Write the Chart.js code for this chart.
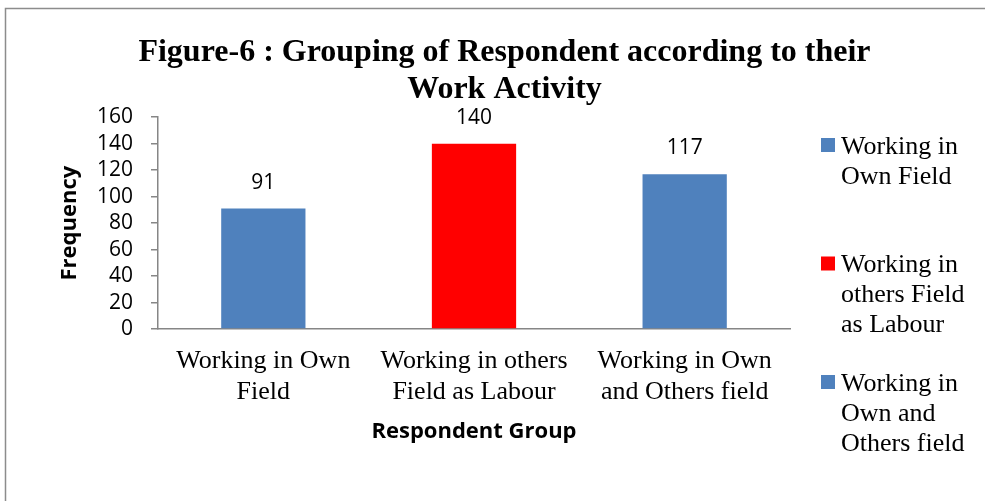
<!DOCTYPE html>
<html>
<head>
<meta charset="utf-8">
<title>Figure-6</title>
<script src="https://cdn.jsdelivr.net/npm/chart.js@4.4.0/dist/chart.umd.min.js"></script>
<style>
  html, body { margin: 0; padding: 0; background: #fff; }
  #wrap { width: 985px; height: 501px; }
</style>
</head>
<body>
<div id="wrap"><canvas id="myChart" width="985" height="501"></canvas></div>
<script>
// data
const categories = ['Working in Own Field', 'Working in others Field as Labour', 'Working in Own and Others field'];
const frequency = [91, 140, 117];
const barColors = ['#4F81BD', '#FF0000', '#4F81BD'];
const yMin = 0;
const yMax = 160;
const yStep = 20;
const titleLines = ['Figure-6 : Grouping of Respondent according to their', 'Work Activity'];
const xTitle = 'Respondent Group';
const yTitle = 'Frequency';

const serif = '"Liberation Serif", "Times New Roman", serif';
const sans = '"Open Sans", "Liberation Sans", sans-serif';
const axisGray = '#868686';

// wraps a label into lines no wider than maxWidth
const measureCtx = document.createElement('canvas').getContext('2d');
function wrapText(text, font, maxWidth) {
    measureCtx.font = font;
    const words = text.split(' ');
    const lines = [];
    let line = '';
    words.forEach(w => {
        const test = line ? line + ' ' + w : w;
        if (line && measureCtx.measureText(test).width > maxWidth) {
            lines.push(line);
            line = w;
        } else {
            line = test;
        }
    });
    if (line) lines.push(line);
    return lines;
}

// grey frame round the whole chart
const framePlugin = {
    id: 'frame',
    beforeDraw(chart) {
        const ctx = chart.ctx;
        ctx.save();
        ctx.strokeStyle = '#8c8c8c';
        ctx.lineWidth = 1.5;
        ctx.strokeRect(5.5, 8.5, 1200, 800);
        ctx.restore();
    }
};

// value above each bar
const valueLabels = {
    id: 'valueLabels',
    afterDatasetsDraw(chart) {
        const ctx = chart.ctx;
        const meta = chart.getDatasetMeta(0);
        ctx.save();
        ctx.font = '21px ' + sans;
        ctx.fillStyle = '#000';
        ctx.textAlign = 'center';
        ctx.textBaseline = 'middle';
        meta.data.forEach((bar, i) => {
            ctx.fillText(chart.data.datasets[0].data[i], bar.x, bar.y - 26);
        });
        ctx.restore();
    }
};

// one legend entry per bar, text wrapped like the category labels
const sideLegend = {
    id: 'sideLegend',
    afterDraw(chart) {
        const ctx = chart.ctx;
        const font = '26px ' + serif;
        const left = chart.chartArea.right + 31;
        const top = 147;
        const gap = 118.5;
        const lineH = 30;
        ctx.save();
        ctx.font = font;
        ctx.textBaseline = 'middle';
        ctx.textAlign = 'left';
        chart.data.labels.forEach((label, i) => {
            const y = top + i * gap;
            ctx.fillStyle = barColors[i];
            ctx.fillRect(left, y - 9, 14, 14);
            ctx.fillStyle = '#000';
            wrapText(label, font, 135).forEach((ln, j) => {
                ctx.fillText(ln, left + 20, y + j * lineH);
            });
        });
        ctx.restore();
    }
};

const data = {
    labels: categories,
    datasets: [{
        label: yTitle,
        data: frequency,
        backgroundColor: barColors,
        borderWidth: 0,
        categoryPercentage: 0.8,
        barPercentage: 0.5
    }]
};

const config = {
    type: 'bar',
    data,
    options: {
        responsive: false,
        animation: false,
        devicePixelRatio: 1,
        layout: {
            padding: { left: 24, right: 0, top: 0, bottom: 56 }
        },
        plugins: {
            legend: { display: false },
            tooltip: { enabled: false },
            title: {
                display: true,
                text: titleLines,
                color: '#000',
                font: { family: serif, size: 32, weight: 'bold', lineHeight: 1.16 },
                padding: { top: 34, bottom: 9 }
            }
        },
        scales: {
            x: {
                grid: { display: false },
                border: { display: true, color: axisGray, width: 1.5 },
                ticks: {
                    color: '#000',
                    font: { family: serif, size: 26, lineHeight: 1.18 },
                    padding: 9,
                    maxRotation: 0,
                    autoSkip: false,
                    callback: function (value) {
                        return wrapText(this.getLabelForValue(value), '26px ' + serif, 200);
                    }
                },
                title: {
                    display: true,
                    text: xTitle,
                    color: '#000',
                    font: { family: sans, size: 22, weight: 'bold', lineHeight: 1.2 },
                    padding: 0
                },
                afterFit: s => { s.height = 116; }
            },
            y: {
                min: yMin,
                max: yMax,
                grid: {
                    display: true,
                    drawOnChartArea: false,
                    drawTicks: true,
                    tickLength: 7,
                    color: axisGray,
                    lineWidth: 1.5
                },
                border: { display: true, color: axisGray, width: 1.5 },
                ticks: {
                    stepSize: yStep,
                    autoSkip: false,
                    color: '#000',
                    font: { family: sans, size: 21 },
                    padding: 18
                },
                title: {
                    display: true,
                    text: yTitle,
                    color: '#000',
                    font: { family: sans, size: 22, weight: 'bold', lineHeight: 1.2 },
                    padding: { top: 33, bottom: 0 }
                },
                afterFit: s => { s.width = 134; }
            },
            // keeps room on the right for the legend
            legendSpace: {
                type: 'linear',
                position: 'right',
                grid: { display: false },
                border: { display: false },
                ticks: { display: false },
                afterFit: s => { s.width = 195; }
            }
        }
    },
    plugins: [framePlugin, valueLabels, sideLegend]
};

const myChart = new Chart(document.getElementById('myChart'), config);
</script>
</body>
</html>
